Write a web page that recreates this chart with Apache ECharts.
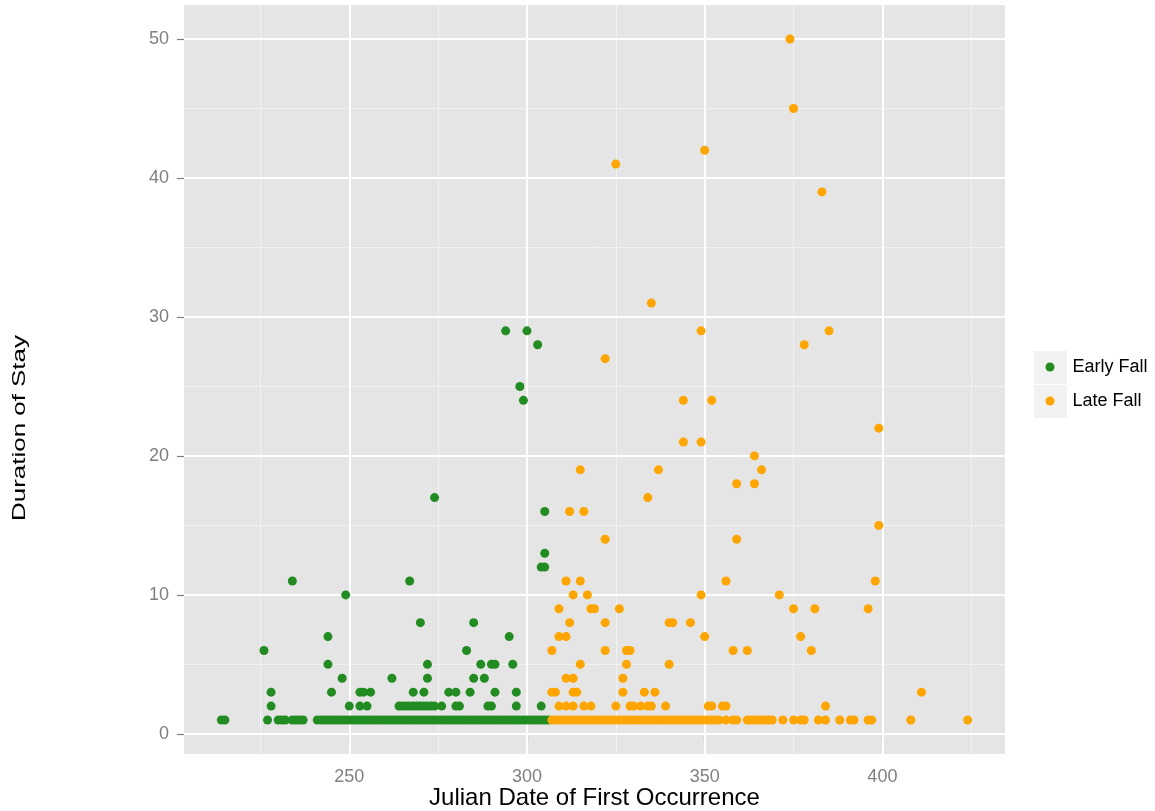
<!DOCTYPE html>
<html>
<head>
<meta charset="utf-8">
<script src="https://cdn.jsdelivr.net/npm/echarts@6/dist/echarts.min.js"></script>
<style>
html,body{margin:0;padding:0;background:#fff;}
#chart{width:1155px;height:811px;}
</style>
</head>
<body>
<div id="chart"></div>
<script>
// ---- data ----
const seriesNames = ['Early Fall', 'Late Fall'];
// first-occurrence days with a stay of 1 day
const earlyDay1 = [214,215,227,230,231,232,234,235,236,237,241,242,243,244,245,246,247,248,249,250,
  251,252,253,254,255,256,257,258,259,260,261,262,263,264,265,266,267,268,269,270,271,272,273,274,275,
  276,277,278,279,280,281,282,283,284,285,286,287,288,289,290,291,292,293,294,295,296,297,298,299,300,
  301,302,303,304,305,306];
const lateDay1 = [307,308,309,310,311,312,313,314,315,316,317,318,319,320,321,322,323,324,325,326,327,
  328,329,330,331,332,333,334,335,336,337,338,339,340,341,342,343,344,345,346,347,348,349,350,351,352,
  353,354,356,358,359,362,363,364,365,366,367,368,369,372,375,377,378,382,384,388,391,392,396,397,408,424];
// other [day, duration] points
const earlyOther = [
  [228,2],[250,2],[253,2],[255,2],[264,2],[265,2],[266,2],[267,2],[268,2],[269,2],[270,2],[271,2],[272,2],
  [273,2],[274,2],[276,2],[280,2],[281,2],[289,2],[290,2],[297,2],[304,2],
  [228,3],[245,3],[253,3],[254,3],[256,3],[268,3],[271,3],[278,3],[280,3],[284,3],[291,3],[297,3],
  [248,4],[262,4],[272,4],[285,4],[288,4],
  [244,5],[272,5],[287,5],[290,5],[291,5],[296,5],
  [226,6],[283,6],
  [244,7],[295,7],
  [270,8],[285,8],
  [249,10],
  [234,11],[267,11],
  [304,12],[305,12],
  [305,13],
  [305,16],
  [274,17],
  [299,24],[298,25],[303,28],[294,29],[300,29]
];
const lateOther = [
  [309,2],[311,2],[313,2],[316,2],[318,2],[325,2],[329,2],[330,2],[332,2],[334,2],[335,2],[339,2],
  [351,2],[352,2],[355,2],[356,2],[384,2],
  [307,3],[308,3],[313,3],[314,3],[327,3],[333,3],[336,3],[411,3],
  [311,4],[313,4],[327,4],
  [315,5],[328,5],[340,5],
  [307,6],[322,6],[328,6],[329,6],[358,6],[362,6],[380,6],
  [309,7],[311,7],[350,7],[377,7],
  [312,8],[322,8],[340,8],[341,8],[346,8],
  [309,9],[318,9],[319,9],[326,9],[375,9],[381,9],[396,9],
  [313,10],[317,10],[349,10],[371,10],
  [311,11],[315,11],[356,11],[398,11],
  [322,14],[359,14],
  [399,15],
  [312,16],[316,16],
  [334,17],
  [359,18],[364,18],
  [315,19],[337,19],[366,19],
  [364,20],
  [344,21],[349,21],
  [399,22],
  [344,24],[352,24],
  [322,27],
  [378,28],
  [349,29],[385,29],
  [335,31],
  [383,39],
  [325,41],
  [350,42],
  [375,45],
  [374,50]
];
const xTicks = [250,300,350,400];
const xMinor = [225,275,325,375,425];
const yTicks = [0,10,20,30,40,50];
const yMinor = [5,15,25,35,45];

// ---- build ----
const earlyData = earlyDay1.map(d => [d, 1]).concat(earlyOther);
const lateData = lateDay1.map(d => [d, 1]).concat(lateOther);

const FONT = '"Liberation Sans", Arial, Helvetica, sans-serif';
const gridLines = [];
xMinor.forEach(v => gridLines.push({xAxis: v, lineStyle: {color: '#f2f2f2', width: 1, type: 'solid'}}));
yMinor.forEach(v => gridLines.push({yAxis: v, lineStyle: {color: '#f2f2f2', width: 1, type: 'solid'}}));
xTicks.forEach(v => gridLines.push({xAxis: v, lineStyle: {color: '#ffffff', width: 2, type: 'solid'}}));
yTicks.forEach(v => gridLines.push({yAxis: v, lineStyle: {color: '#ffffff', width: 2, type: 'solid'}}));

const chart = echarts.init(document.getElementById('chart'), null, {renderer: 'canvas'});
chart.setOption({
  animation: false,
  backgroundColor: '#ffffff',
  textStyle: {fontFamily: FONT},
  grid: {left: 184, right: 150, top: 5, bottom: 57, show: true, backgroundColor: '#e5e5e5', borderWidth: 0,
    containLabel: false, outerBoundsMode: 'none'},
  xAxis: {
    type: 'value', min: 203.5, max: 434.5,
    axisLine: {show: false},
    axisTick: {show: true, length: 7, customValues: xTicks, lineStyle: {color: '#7f7f7f', width: 1.2}},
    axisLabel: {customValues: xTicks, color: '#7f7f7f', fontSize: 18, margin: 14, fontFamily: FONT},
    splitLine: {show: false},
    name: 'Julian Date of First Occurrence', nameLocation: 'middle', nameGap: 32, nameMoveOverlap: false,
    nameTextStyle: {fontSize: 24, color: '#000000', fontFamily: FONT}
  },
  yAxis: {
    type: 'value', min: -1.45, max: 52.45,
    axisLine: {show: false},
    axisTick: {show: true, length: 7, customValues: yTicks, lineStyle: {color: '#7f7f7f', width: 1.2}},
    axisLabel: {customValues: yTicks, color: '#7f7f7f', fontSize: 18, margin: 15, fontFamily: FONT},
    splitLine: {show: false}
  },
  legend: {
    data: seriesNames, orient: 'vertical', left: 1045.5, top: 357, padding: 0,
    itemWidth: 9, itemHeight: 9, icon: 'circle', itemGap: 14, selectedMode: false,
    textStyle: {fontSize: 18, color: '#000000', lineHeight: 20, padding: [0, 0, 0, 13], fontFamily: FONT},
    z: 10
  },
  graphic: [
    {type: 'rect', left: 1034, top: 351, shape: {width: 33, height: 33}, style: {fill: '#f2f2f2'}, z: 0, silent: true},
    {type: 'rect', left: 1034, top: 385, shape: {width: 33, height: 33}, style: {fill: '#f2f2f2'}, z: 0, silent: true},
    {type: 'text', x: 20, y: 428, rotation: Math.PI / 2, scaleX: 1.08, scaleY: 0.74,
      style: {text: 'Duration of Stay', fontSize: 24, fill: '#000000', fontFamily: FONT, align: 'center', verticalAlign: 'middle'}, silent: true}
  ],
  series: [
    {
      type: 'scatter', name: '__grid', data: [], silent: true, z: 1,
      markLine: {silent: true, symbol: ['none', 'none'], label: {show: false}, animation: false,
        emphasis: {disabled: true}, data: gridLines}
    },
    {name: seriesNames[0], type: 'scatter', data: earlyData, symbolSize: 9, zlevel: 1, z: 2,
      itemStyle: {color: '#228B22', opacity: 1}, emphasis: {disabled: true}},
    {name: seriesNames[1], type: 'scatter', data: lateData, symbolSize: 9, zlevel: 1, z: 3,
      itemStyle: {color: '#FFA500', opacity: 1}, emphasis: {disabled: true}}
  ]
});
</script>
</body>
</html>
